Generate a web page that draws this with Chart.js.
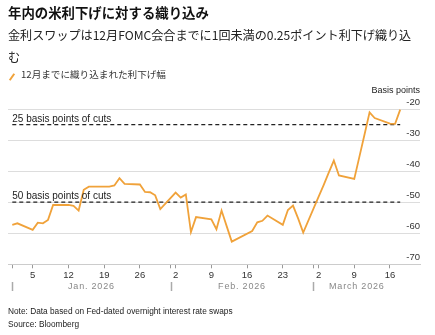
<!DOCTYPE html>
<html>
<head>
<meta charset="utf-8">
<script src="https://cdn.jsdelivr.net/npm/chart.js@4"></script>
<style>
  html, body { margin: 0; padding: 0; background: #fff; }
  body { width: 435px; height: 335px; position: relative; overflow: hidden; font-family: "Liberation Sans", Arial, sans-serif; }
  .t { position: absolute; white-space: nowrap; color: #222; }
  #title { left: 8px; top: 4px; font: bold 13.4px/16px "Noto Sans CJK JP", sans-serif; color: #111; }
  #sub { left: 8px; top: 24px; font: 12.1px/22px "Noto Sans CJK JP", sans-serif; color: #222; }
  #legend { left: 21px; top: 67px; font: 9.6px/14px "Noto Sans CJK JP", sans-serif; color: #333; }
  #legicon { position: absolute; left: 7.5px; top: 76px; width: 8px; height: 2px; background: #f0a23a; transform: rotate(-55deg); }
  #note { left: 8px; top: 305px; font: 8.3px/12px "Liberation Sans", Arial, sans-serif; }
  #src { left: 8px; top: 318px; font: 8.3px/12px "Liberation Sans", Arial, sans-serif; }
  canvas { position: absolute; left: 0; top: 0; }
</style>
</head>
<body>
<canvas id="c" width="435" height="335"></canvas>
<div class="t" id="title">年内の米利下げに対する織り込み</div>
<div class="t" id="sub">金利スワップは12月FOMC会合までに1回未満の0.25ポイント利下げ織り込<br>む</div>
<div id="legicon"></div>
<div class="t" id="legend">12月までに織り込まれた利下げ幅</div>
<div class="t" id="note">Note: Data based on Fed-dated overnight interest rate swaps</div>
<div class="t" id="src">Source: Bloomberg</div>
<script>
// Day offsets from Jan 1, 2026
const DAYS = [0, 1, 4, 5, 6, 7, 8, 11, 12, 13, 14, 15, 19, 20, 21, 22, 25, 26, 27, 28, 29,
  32, 33, 34, 35, 36, 39, 40, 41, 42, 43, 47, 48, 49, 50, 53, 54, 55, 56, 57,
  60, 61, 62, 63, 64, 67, 68, 69, 70, 71, 74, 75, 76];
const PRICED_CUTS = [-57.3, -56.8, -58.9, -56.6, -56.8, -55.7, -50.9, -50.9, -51.2, -52.7, -46.0, -45.0, -45.0, -44.6, -42.3, -44.1, -44.3, -46.7, -46.8, -47.8, -52.2,
  -46.9, -48.5, -47.5, -59.6, -54.8, -55.5, -58.7, -52.7, -57.7, -62.7, -59.3, -56.5, -56.0, -54.3, -57.3, -52.5, -51.1, -55.2, -59.8,
  -48.3, -44.5, -40.5, -36.6, -41.4, -42.5, -35.4, -28.3, -21.1, -22.9, -24.7, -24.8, -20.2];
const SERIES_LABEL = '12月までに織り込まれた利下げ幅';

const CUT_LEVELS = [-25, -50];
const CUT_LABELS = ['25 basis points of cuts', '50 basis points of cuts'];

const Y_TICKS = [-70, -60, -50, -40, -30, -20];
const Y_UNIT = 'Basis points';

const X_TICK_DAYS = [0, 4, 11, 18, 25, 31, 32, 39, 46, 53, 59, 60, 67, 74];
const X_TICK_LABELS = ['', '5', '12', '19', '26', '', '2', '9', '16', '23', '', '2', '9', '16'];

const MONTH_LABELS = ['Jan. 2026', 'Feb. 2026', 'March 2026'];
const MONTH_START = [0, 31, 59];
const MONTH_END = [31, 59, 76];

const ORANGE = '#f0a23a';

const lineData = DAYS.map((d, i) => ({ x: d, y: PRICED_CUTS[i] }));
const firstDay = DAYS[0], lastDay = DAYS[DAYS.length - 1];
const cutSets = CUT_LEVELS.map(v => ({
  data: [{ x: firstDay, y: v }, { x: lastDay, y: v }],
  borderColor: '#222', borderWidth: 1.3, borderDash: [4, 3],
  pointRadius: 0, fill: false, order: 2
}));

const decor = {
  id: 'decor',
  afterDraw(chart) {
    const ctx = chart.ctx;
    const xs = chart.scales.x, ys = chart.scales.y;
    const ca = chart.chartArea;
    ctx.save();
    ctx.font = '10px "Liberation Sans", Arial, sans-serif';
    ctx.fillStyle = '#222';
    ctx.textAlign = 'left';
    ctx.textBaseline = 'alphabetic';
    CUT_LEVELS.forEach((v, i) => {
      ctx.fillText(CUT_LABELS[i], xs.getPixelForValue(firstDay), ys.getPixelForValue(v) - 3);
    });
    ctx.font = '9px "Liberation Sans", Arial, sans-serif';
    ctx.fillStyle = '#222';
    ctx.textAlign = 'right';
    ctx.textBaseline = 'middle';
    ctx.fillText(Y_UNIT, ca.right, 91);
    ctx.font = '9px "Liberation Sans", Arial, sans-serif';
    ctx.fillStyle = '#888';
    ctx.textAlign = 'center';
    ctx.textBaseline = 'middle';
    try { ctx.letterSpacing = '0.8px'; } catch (e) {}
    MONTH_LABELS.forEach((m, i) => {
      const x0 = xs.getPixelForValue(MONTH_START[i]);
      const x1 = xs.getPixelForValue(MONTH_END[i]);
      ctx.fillText(m, (x0 + x1) / 2, 286.5);
    });
    try { ctx.letterSpacing = '0px'; } catch (e) {}
    ctx.strokeStyle = '#aaa';
    ctx.lineWidth = 1.5;
    MONTH_START.forEach(d => {
      const x = Math.round(xs.getPixelForValue(d)) + 0.5;
      ctx.beginPath();
      ctx.moveTo(x, 282);
      ctx.lineTo(x, 291);
      ctx.stroke();
    });
    ctx.restore();
  }
};

new Chart(document.getElementById('c'), {
  type: 'line',
  data: {
    datasets: [
      { label: SERIES_LABEL, data: lineData, borderColor: ORANGE, borderWidth: 1.8,
        pointRadius: 0, tension: 0, fill: false, order: 1 },
      ...cutSets
    ]
  },
  options: {
    responsive: false,
    devicePixelRatio: 1,
    animation: false,
    layout: { padding: { left: 8, right: 15, top: 109, bottom: 53.3 } },
    plugins: { legend: { display: false }, tooltip: { enabled: false } },
    scales: {
      x: {
        type: 'linear',
        min: -0.84, max: 79.88,
        afterBuildTicks: s => { s.ticks = X_TICK_DAYS.map(v => ({ value: v })); },
        grid: { drawOnChartArea: false, drawTicks: true, tickLength: 4, color: '#999' },
        border: { display: true, color: '#ccc' },
        ticks: {
          autoSkip: false, maxRotation: 0, padding: 1,
          color: '#333', font: { size: 9.5, family: '"Liberation Sans", Arial, sans-serif' },
          callback: (v, i) => X_TICK_LABELS[i]
        }
      },
      y: {
        type: 'linear',
        position: 'right',
        min: -70, max: -20,
        afterBuildTicks: s => { s.ticks = Y_TICKS.map(v => ({ value: v })); },
        grid: { drawTicks: false, color: '#ddd', lineWidth: 1 },
        border: { display: false },
        ticks: {
          mirror: true, padding: 0, labelOffset: -7,
          color: '#333', font: { size: 9.5, family: '"Liberation Sans", Arial, sans-serif' },
          callback: v => String(v)
        }
      }
    }
  },
  plugins: [decor]
});
</script>
</body>
</html>
